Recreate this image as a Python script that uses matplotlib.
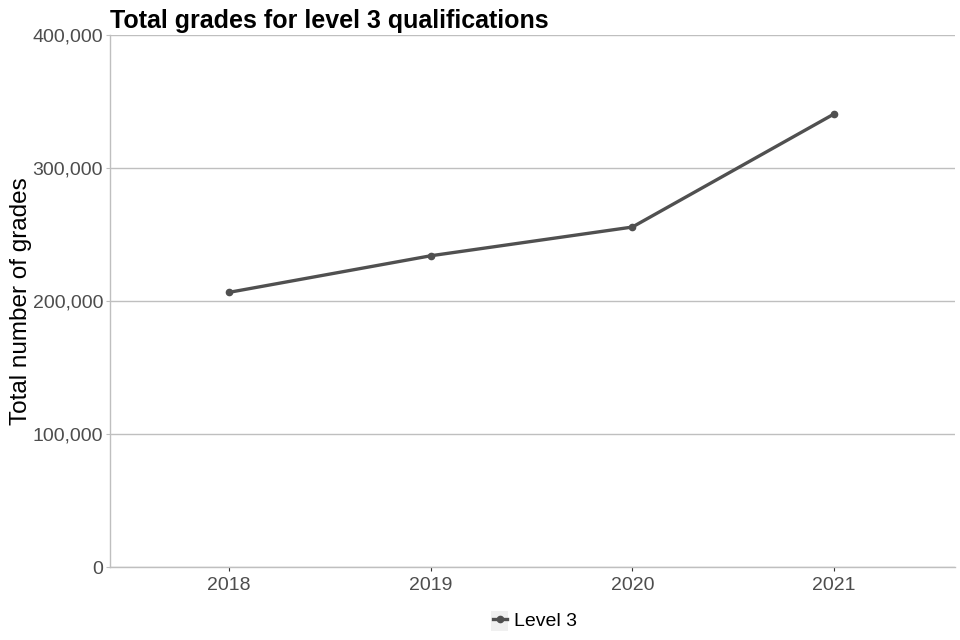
import matplotlib
matplotlib.use("Agg")
import matplotlib.pyplot as plt
from matplotlib.ticker import FuncFormatter
from matplotlib.patches import Rectangle

years = ["2018", "2019", "2020", "2021"]
grades = [206500, 234000, 255600, 340600]
series_name = "Level 3"
yticks = [0, 100000, 200000, 300000, 400000]

plt.rcParams['font.family'] = ['Liberation Sans', 'DejaVu Sans']

fig = plt.figure(figsize=(9.6, 6.4), dpi=100)
ax = fig.add_axes([110/960, 1-567/640, (955-110)/960, (567-35)/640])

x = list(range(len(years)))
ax.plot(x, grades, color="#505050", linewidth=2.4, marker="o", markersize=4.5,
        label=series_name, zorder=3)

ax.set_xlim(-0.59, 3.6)
ax.set_ylim(0, 400000)
ax.set_xticks(x)
ax.set_xticklabels(years)
ax.set_yticks(yticks)
ax.yaxis.set_major_formatter(FuncFormatter(lambda v, p: f"{int(v):,}"))
ax.grid(axis="y", color="#bfbfbf", linewidth=1)
ax.set_axisbelow(True)

for s in ["top", "right"]:
    ax.spines[s].set_visible(False)
for s in ["left", "bottom"]:
    ax.spines[s].set_color("#bfbfbf")
    ax.spines[s].set_linewidth(1)

ax.tick_params(axis="y", length=3, color="#bfbfbf", labelsize=14, labelcolor="#4d4d4d", pad=2)
ax.tick_params(axis="x", length=3, color="#333333", labelsize=14, labelcolor="#4d4d4d", pad=4)

ax.set_ylabel("Total number of grades", fontsize=17.5, color="black", labelpad=0)
ax.set_title("Total grades for level 3 qualifications", fontsize=18, fontweight="bold",
             loc="left", pad=5, x=0.0)

# legend key background (ggplot style)
fig.patches.append(Rectangle((491/960, 1-631/640), 17/960, 20/640,
                             transform=fig.transFigure, facecolor="#f0f0f0",
                             edgecolor="none", zorder=0))
leg = fig.legend(loc="center", bbox_to_anchor=(535/960, 1-621/640), frameon=False,
                 fontsize=14, handlelength=0.75, handletextpad=0.35)

fig.savefig("out.png", dpi=100)
